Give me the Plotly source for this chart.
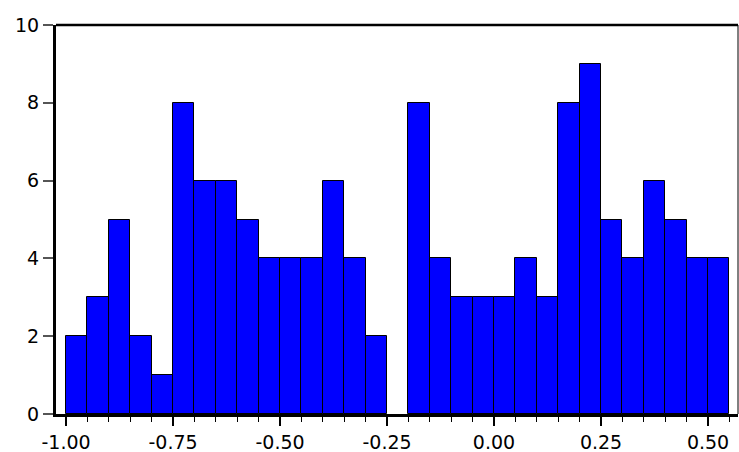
import plotly.graph_objects as go

# Histogram bins (left edges, width 0.05) and their frequencies
bin_left = [-1.00, -0.95, -0.90, -0.85, -0.80, -0.75, -0.70, -0.65, -0.60, -0.55,
            -0.50, -0.45, -0.40, -0.35, -0.30, -0.25, -0.20, -0.15, -0.10, -0.05,
            0.00, 0.05, 0.10, 0.15, 0.20, 0.25, 0.30, 0.35, 0.40, 0.45, 0.50]
counts = [2, 3, 5, 2, 1, 8, 6, 6, 5, 4,
          4, 4, 6, 4, 2, 0, 8, 4, 3, 3,
          3, 4, 3, 8, 9, 5, 4, 6, 5, 4, 4]
bin_width = 0.05

x_ticks = [-1.00, -0.75, -0.50, -0.25, 0.00, 0.25, 0.50]
x_tick_text = ["-1.00", "-0.75", "-0.50", "-0.25", "0.00", "0.25", "0.50"]
y_ticks = [0, 2, 4, 6, 8, 10]

# empty bins get no outline, only non-empty bars are drawn
fig = go.Figure(
    go.Bar(
        x=[b + bin_width / 2 for b, c in zip(bin_left, counts) if c > 0],
        y=[c for c in counts if c > 0],
        width=bin_width,
        marker=dict(color="#0000FF", line=dict(color="black", width=1)),
        hoverinfo="x+y",
    )
)

x_font = dict(family="DejaVu Sans", size=19, color="black")
y_font = dict(family="DejaVu Sans", size=19, color="black")

fig.update_layout(
    width=739,
    height=452,
    margin=dict(l=56, r=1, t=25, b=38),
    paper_bgcolor="white",
    plot_bgcolor="white",
    showlegend=False,
    bargap=0,
    xaxis=dict(
        range=[-1.0234, 0.570],
        tickvals=x_ticks,
        ticktext=x_tick_text,
        ticks="outside",
        ticklen=9,
        tickwidth=1.5,
        tickcolor="black",
        minor=dict(dtick=0.05, tick0=0, ticks="outside", ticklen=5,
                   tickwidth=1, tickcolor="black"),
        showline=True,
        linecolor="black",
        linewidth=3,
        showgrid=False,
        zeroline=False,
        tickfont=x_font,
        automargin=False,
    ),
    yaxis=dict(
        range=[0, 10],
        tickvals=y_ticks,
        ticks="outside",
        ticklen=10,
        tickwidth=1.5,
        tickcolor="#555555",
        showline=True,
        linecolor="black",
        linewidth=3,
        showgrid=False,
        zeroline=False,
        tickfont=y_font,
        automargin=False,
    ),
    shapes=[
        # top frame edge
        dict(type="line", xref="paper", yref="paper", x0=0, x1=1, y0=1, y1=1,
             line=dict(color="black", width=2.5)),
        # right frame edge
        dict(type="line", xref="paper", yref="paper", x0=1, x1=1, y0=0, y1=1,
             line=dict(color="black", width=1)),
    ],
)

fig.write_html("out.html")
